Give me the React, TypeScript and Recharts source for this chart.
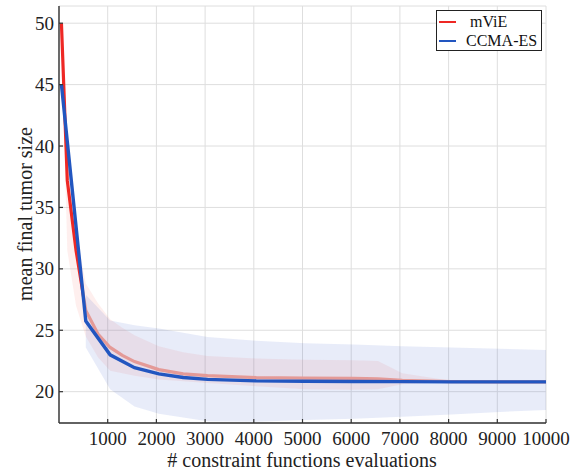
import React from "react";
import {Area, CartesianGrid, ComposedChart, Label, Line, XAxis, YAxis} from "recharts";

// mViE
const mvieEvals = [50, 170, 350, 550, 800, 1050, 1300, 1550, 2050, 2550, 3050, 4050, 5050, 6050, 6550, 7050, 8050, 9050, 10000];
const mvieMean = [50, 37.2, 31.5, 26.6, 24.7, 23.6, 22.95, 22.45, 21.8, 21.45, 21.3, 21.15, 21.1, 21.08, 21.05, 20.92, 20.82, 20.8, 20.8];
const mvieLow = [49.6, 31.5, 27, 24.5, 22.8, 21.7, 21.5, 21.3, 21.0, 20.85, 20.7, 20.45, 20.2, 20.15, 20.2, 20.6, 20.78, 20.8, 20.8];
const mvieHigh = [50.4, 40, 33, 28.8, 27.2, 25.9, 25.2, 24.6, 23.7, 23.2, 22.9, 22.7, 22.6, 22.55, 22.5, 21.5, 20.88, 20.8, 20.8];

// CCMA-ES
const ccmaEvals = [50, 550, 1050, 1550, 2050, 2550, 3050, 4050, 5050, 6050, 7050, 8050, 9050, 10000];
const ccmaMean = [45, 25.75, 23.0, 21.95, 21.45, 21.15, 21.0, 20.88, 20.85, 20.83, 20.82, 20.8, 20.8, 20.8];
const ccmaLow = [null, 23.6, 20.2, 18.8, 18.2, 17.9, 17.6, 17.55, 17.7, 17.8, 17.95, 18.15, 18.35, 18.5];
const ccmaHigh = [null, 27.9, 25.8, 25.4, 25.15, 24.8, 24.45, 24.15, 23.95, 23.85, 23.7, 23.6, 23.5, 23.4];

const xTicks = [1000, 2000, 3000, 4000, 5000, 6000, 7000, 8000, 9000, 10000];
const yTicks = [20, 25, 30, 35, 40, 45, 50];

const legendItems = [
    {name: "mViE", color: "#ee2824", indent: 33},
    {name: "CCMA-ES", color: "#2256c0", indent: 29},
];

const mvieData = mvieEvals.map((x, i) => ({x, mean: mvieMean[i], range: [mvieLow[i], mvieHigh[i]]}));
const ccmaData = ccmaEvals.map((x, i) => ({x, mean: ccmaMean[i]}));
const ccmaBand = ccmaEvals
    .map((x, i) => ({x, range: [ccmaLow[i], ccmaHigh[i]]}))
    .filter(d => d.range[0] !== null);

const FONT = "'Liberation Serif', 'Times New Roman', serif";
const AXIS = "#333";

function XTick(props: any) {
    const {x, y, payload} = props;
    return <g>
        <line x1={x} y1={y} x2={x} y2={y - 4} stroke={AXIS} strokeWidth={1.2}/>
        <text x={x} y={y + 22} textAnchor="middle" fontFamily={FONT} fontSize={19} fill="#222">{payload.value}</text>
    </g>
}

function YTick(props: any) {
    const {x, y, payload} = props;
    return <g>
        <line x1={x} y1={y} x2={x + 4} y2={y} stroke={AXIS} strokeWidth={1.2}/>
        <text x={x - 5} y={y + 6.5} textAnchor="end" fontFamily={FONT} fontSize={19} fill="#222">{payload.value}</text>
    </g>
}

export default function App() {
    return <div style={{position: "absolute", left: 0, top: 0, width: 581, height: 470, background: "#fff"}}>
        <ComposedChart width={581} height={470} margin={{top: 6, right: 35, bottom: 0, left: 0}}>
            <defs>
                <linearGradient id="mvieStroke" x1="0" y1="0" x2="1" y2="0">
                    <stop offset="0" stopColor="#ee2824"/>
                    <stop offset="0.042" stopColor="#ee2824"/>
                    <stop offset="0.048" stopColor="#e49a97"/>
                    <stop offset="1" stopColor="#e49a97"/>
                </linearGradient>
            </defs>
            <CartesianGrid stroke="#dedede" strokeWidth={1}/>
            <XAxis
                type="number"
                dataKey="x"
                domain={[0, 10000]}
                ticks={xTicks}
                allowDataOverflow
                height={47}
                tickSize={0}
                tickMargin={0}
                tickLine={false}
                tick={<XTick/>}
                axisLine={{stroke: AXIS, strokeWidth: 1.4}}
            >
                <Label content={() => <text x={302} y={467} textAnchor="middle" fontFamily={FONT} fontSize={20} fill="#222"># constraint functions evaluations</text>}/>
            </XAxis>
            <YAxis
                type="number"
                domain={[17.45, 51.4]}
                ticks={yTicks}
                allowDataOverflow
                width={59}
                tickSize={0}
                tickMargin={0}
                tickLine={false}
                tick={<YTick/>}
                axisLine={{stroke: AXIS, strokeWidth: 1.4}}
            >
                <Label content={() => <text x={25} y={214} transform="rotate(-90 25 214)" textAnchor="middle" dominantBaseline="central" fontFamily={FONT} fontSize={20} fill="#222">mean final tumor size</text>}/>
            </YAxis>
            <Area data={mvieData} dataKey="range" type="linear" stroke="none" fill="#f47a70" fillOpacity={0.12} isAnimationActive={false}/>
            <Area data={ccmaBand} dataKey="range" type="linear" stroke="none" fill="#2a56c6" fillOpacity={0.11} isAnimationActive={false}/>
            <Line data={mvieData} dataKey="mean" type="linear" stroke="url(#mvieStroke)" strokeWidth={3.2} dot={false} isAnimationActive={false}/>
            <Line data={ccmaData} dataKey="mean" type="linear" stroke="#2256c0" strokeWidth={3.4} dot={false} isAnimationActive={false}/>
        </ComposedChart>
        <div style={{position: "absolute", left: 436, top: 10, width: 104, height: 39, border: "1px solid #222", background: "#fff", fontFamily: FONT, fontSize: 16, color: "#111"}}>
            {legendItems.map((item, i) => <div key={item.name} style={{position: "absolute", left: 0, top: 1 + i * 19, height: 19, width: 104}}>
                <div style={{position: "absolute", left: 2, top: 9, width: 17, height: 2, background: item.color}}/>
                <span style={{position: "absolute", left: item.indent, top: 0, lineHeight: "19px", whiteSpace: "nowrap"}}>{item.name}</span>
            </div>)}
        </div>
    </div>
}
